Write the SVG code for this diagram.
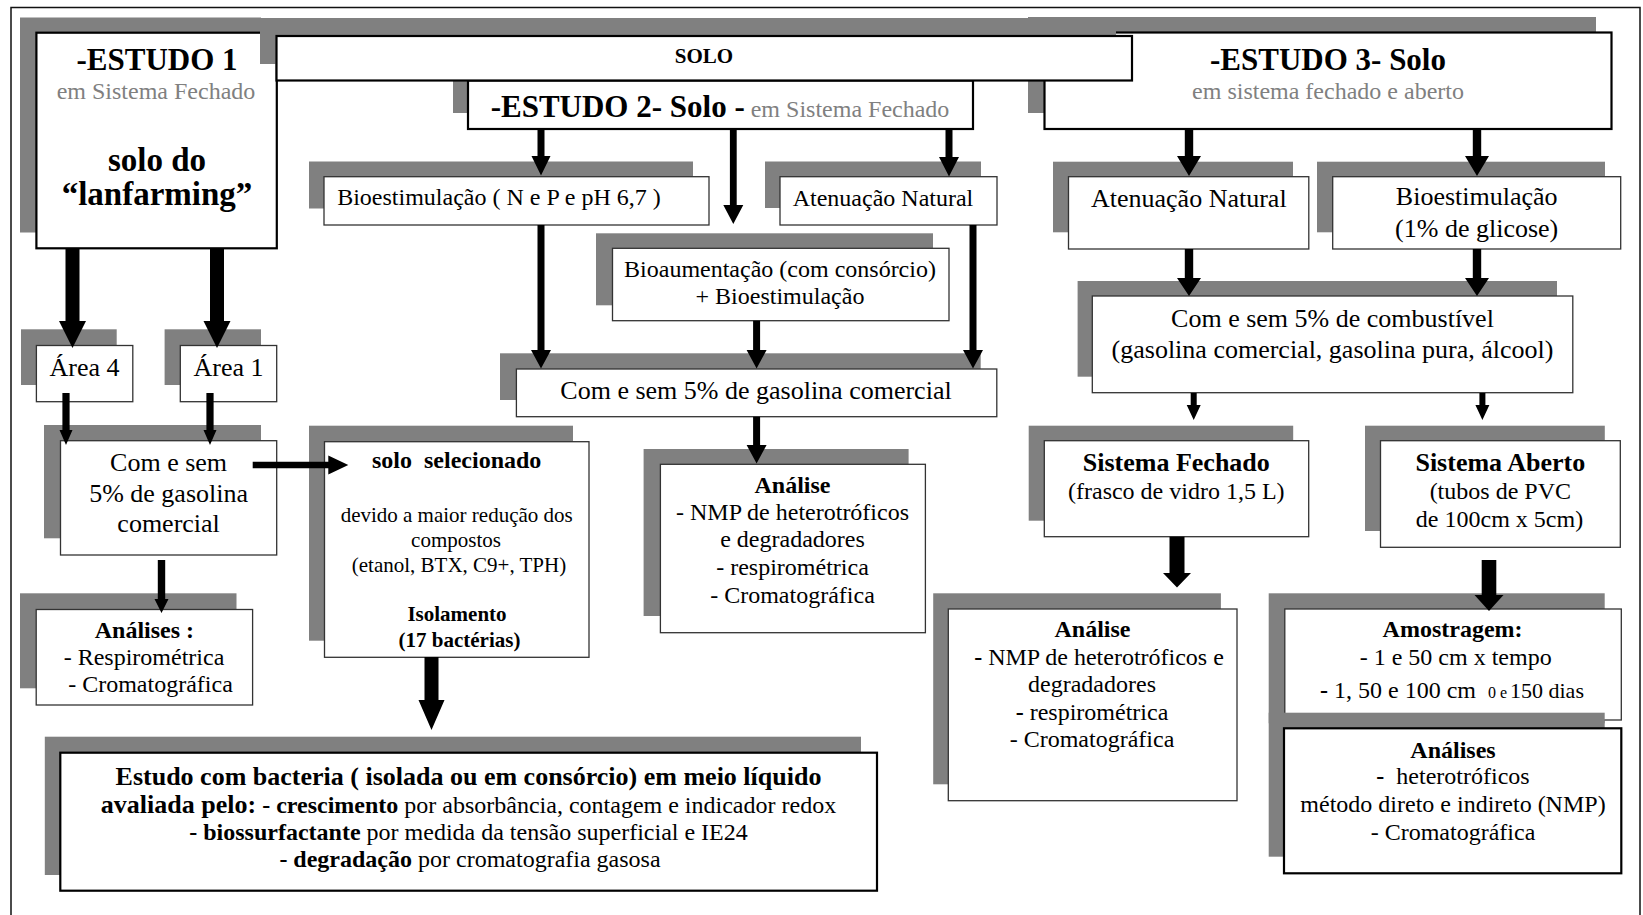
<svg xmlns="http://www.w3.org/2000/svg" width="1643" height="915" viewBox="0 0 1643 915">
<style>
.s{fill:#808080}
.b{fill:#fff;stroke:#333;stroke-width:1.3}
.k{fill:#fff;stroke:#000;stroke-width:2.2}
text{font-family:"Liberation Serif","Times New Roman",serif;fill:#000;text-anchor:middle}
.bd{font-weight:bold}
.gr{fill:#808080}
.f21{font-size:21px}.f24{font-size:24px}.f26{font-size:26px}.f31{font-size:31px}.f33{font-size:33px}
.ar{fill:#000}
</style>
<rect x="11" y="7.5" width="1629" height="960" fill="#fff" stroke="#111" stroke-width="1.5"/>

<g id="estudo1">
<rect class="s" x="20" y="17.5" width="241" height="215"/>
<rect class="k" x="36.4" y="32.7" width="240.4" height="215.6"/>
<text class="bd f31" x="157" y="70">-ESTUDO 1</text>
<text class="gr f24" x="156" y="99">em Sistema Fechado</text>
<text class="bd f33" x="157" y="171">solo do</text>
<text class="bd f33" x="157" y="205">“lanfarming”</text>
</g>

<g id="estudo3">
<rect class="s" x="1028" y="17" width="568" height="96"/>
<rect class="k" x="1044.5" y="32.5" width="567" height="96.5"/>
<text class="bd f31" x="1328" y="70">-ESTUDO 3- Solo</text>
<text class="gr f24" x="1328" y="98.5">em sistema fechado e aberto</text>
</g>

<g id="estudo2">
<rect class="s" x="453" y="64" width="505" height="49"/>
<rect class="k" x="468" y="80.5" width="505" height="48.5"/>
<text x="720" y="117"><tspan class="bd f31">-ESTUDO 2- Solo -</tspan><tspan class="gr f24"> em Sistema Fechado</tspan></text>
</g>

<g id="solo">
<rect class="s" x="260" y="18" width="856" height="46"/>
<rect class="k" x="276.5" y="36" width="855.5" height="44.5"/>
<text class="bd f21" x="704" y="63">SOLO</text>
</g>

<g id="area4">
<rect class="s" x="21" y="329.3" width="95.7" height="55.7"/>
<rect class="b" x="36.4" y="345.5" width="96.4" height="56.2"/>
<text class="f26" x="84.6" y="376">Área 4</text>
</g>

<g id="area1">
<rect class="s" x="164.6" y="329.3" width="96.4" height="55.7"/>
<rect class="b" x="180.3" y="345.5" width="96.4" height="56.2"/>
<text class="f26" x="228.5" y="376">Área 1</text>
</g>

<g id="gasolina1">
<rect class="s" x="44" y="425" width="217" height="113.3"/>
<rect class="b" x="60.5" y="440.7" width="216.2" height="114.3"/>
<text class="f26" x="168.6" y="470.7">Com e sem</text>
<text class="f26" x="168.6" y="501.7">5% de gasolina</text>
<text class="f26" x="168.6" y="531.7">comercial</text>
</g>

<g id="analises1">
<rect class="s" x="20" y="593.3" width="216.5" height="95"/>
<rect class="b" x="36.2" y="609.5" width="216.4" height="95.5"/>
<text class="bd f24" x="144.4" y="638.3">Análises :</text>
<text class="f24" x="144" y="665">- Respirométrica</text>
<text class="f24" x="150.5" y="691.7">- Cromatográfica</text>
</g>

<g id="soloSelecionado">
<rect class="s" x="309" y="425.7" width="264" height="215"/>
<rect class="b" x="324.5" y="441.7" width="264.5" height="215.6"/>
<text class="bd f24" x="456.7" y="468.3" xml:space="preserve">solo  selecionado</text>
<text class="f21" x="456.7" y="521.7">devido a maior redução dos</text>
<text class="f21" x="456" y="546.7">compostos</text>
<text class="f21" x="459" y="571.7">(etanol, BTX, C9+, TPH)</text>
<text class="bd f21" x="457" y="620.5">Isolamento</text>
<text class="bd f21" x="459.5" y="646.5">(17 bactérias)</text>
</g>

<g id="estudoBacteria">
<rect class="s" x="44.8" y="736.7" width="816.2" height="138.3"/>
<rect class="k" x="60.3" y="752.7" width="816.7" height="138"/>
<text class="bd f26" x="468.5" y="785">Estudo com bacteria ( isolada ou em consórcio) em meio líquido</text>
<text x="468.5" y="813.3"><tspan class="bd f26">avaliada pelo:</tspan><tspan class="bd f24"> - crescimento</tspan><tspan class="f24"> por absorbância, contagem e indicador redox</tspan></text>
<text x="468.5" y="840"><tspan class="bd f24">- biossurfactante</tspan><tspan class="f24"> por medida da tensão superficial e IE24</tspan></text>
<text x="470" y="866.7"><tspan class="bd f24">- degradação</tspan><tspan class="f24"> por cromatografia gasosa</tspan></text>
</g>

<g id="bioNP">
<rect class="s" x="309" y="161.5" width="384" height="47"/>
<rect class="b" x="324" y="176.7" width="385" height="48.3"/>
<text class="f24" x="499" y="205">Bioestimulação ( N e P e pH 6,7 )</text>
</g>

<g id="atenuacao2">
<rect class="s" x="765" y="161.5" width="216" height="46.5"/>
<rect class="b" x="780" y="176.7" width="217" height="48.3"/>
<text class="f24" x="883" y="205.5">Atenuação Natural</text>
</g>

<g id="bioaumentacao">
<rect class="s" x="596" y="233.3" width="337" height="72"/>
<rect class="b" x="612.5" y="248.3" width="336.5" height="72.4"/>
<text class="f24" x="780" y="276.7">Bioaumentação (com consórcio)</text>
<text class="f24" x="780" y="304">+ Bioestimulação</text>
</g>

<g id="gasolina2">
<rect class="s" x="500" y="353.3" width="480.7" height="46.7"/>
<rect class="b" x="516.4" y="369" width="480.4" height="47.7"/>
<text class="f26" x="756" y="399.3">Com e sem 5% de gasolina comercial</text>
</g>

<g id="analise2">
<rect class="s" x="643.6" y="449" width="265" height="167"/>
<rect class="b" x="660.4" y="464.3" width="265" height="168.4"/>
<text class="bd f24" x="792.5" y="492.7">Análise</text>
<text class="f24" x="792.5" y="520">- NMP de heterotróficos</text>
<text class="f24" x="792.5" y="546.7">e degradadores</text>
<text class="f24" x="792.5" y="575">- respirométrica</text>
<text class="f24" x="792.5" y="603.3">- Cromatográfica</text>
</g>

<g id="atenuacao3">
<rect class="s" x="1053" y="161.7" width="240" height="70.6"/>
<rect class="b" x="1068.5" y="176.7" width="240.3" height="72.3"/>
<text class="f26" x="1188.8" y="206.7">Atenuação Natural</text>
</g>

<g id="bioGlicose">
<rect class="s" x="1317" y="161.7" width="288" height="70.6"/>
<rect class="b" x="1332.7" y="176.7" width="288" height="72.3"/>
<text class="f26" x="1476.7" y="205">Bioestimulação</text>
<text class="f26" x="1476.7" y="237.3">(1% de glicose)</text>
</g>

<g id="combustivel">
<rect class="s" x="1077.6" y="281" width="479.4" height="95.7"/>
<rect class="b" x="1092.3" y="296" width="480.5" height="96.7"/>
<text class="f26" x="1332.5" y="326.7">Com e sem 5% de combustível</text>
<text class="f26" x="1332.5" y="358.3">(gasolina comercial, gasolina pura, álcool)</text>
</g>

<g id="sistemaFechado">
<rect class="s" x="1028.7" y="425.7" width="264.5" height="95"/>
<rect class="b" x="1044.3" y="440.7" width="264.4" height="96"/>
<text class="bd f26" x="1176.3" y="470.7">Sistema Fechado</text>
<text class="f24" x="1176.3" y="499">(frasco de vidro 1,5 L)</text>
</g>

<g id="sistemaAberto">
<rect class="s" x="1365" y="425.7" width="239.8" height="105.3"/>
<rect class="b" x="1380.5" y="440.7" width="239.8" height="106.6"/>
<text class="bd f26" x="1500.3" y="470.7">Sistema Aberto</text>
<text class="f24" x="1500.3" y="499">(tubos de PVC</text>
<text class="f24" x="1499.5" y="527.3">de 100cm x 5cm)</text>
</g>

<g id="analise3">
<rect class="s" x="933.2" y="593.3" width="287.7" height="191"/>
<rect class="b" x="948.3" y="609" width="288.7" height="191.7"/>
<text class="bd f24" x="1092.5" y="637.3">Análise</text>
<text class="f24" x="1099" y="665"><tspan class="bd">-</tspan> NMP de heterotróficos e</text>
<text class="f24" x="1092" y="691.7">degradadores</text>
<text class="f24" x="1092" y="720"><tspan class="bd">-</tspan> respirométrica</text>
<text class="f24" x="1092" y="746.7">- Cromatográfica</text>
</g>

<g id="amostragem">
<rect class="s" x="1268.7" y="593.3" width="336" height="130"/>
<rect class="b" x="1284.8" y="609" width="336.5" height="111"/>
<text class="bd f24" x="1452.6" y="637.3">Amostragem:</text>
<text class="f24" x="1455.7" y="665">- 1 e 50 cm x tempo</text>
<text style="text-anchor:start" x="1320" y="698.3"><tspan class="f24"><tspan class="bd">-</tspan> 1, 50 e 100 cm</tspan><tspan x="1488" style="font-size:16px">0 e</tspan><tspan x="1510" style="font-size:22px">150 dias</tspan></text>
</g>

<g id="analises3">
<rect class="s" x="1268.7" y="712.7" width="336" height="144"/>
<rect class="k" x="1284" y="728.3" width="337.3" height="145"/>
<text class="bd f24" x="1453" y="758.3">Análises</text>
<text class="f24" x="1453" y="784" xml:space="preserve"><tspan class="bd">-</tspan>  heterotróficos</text>
<text class="f24" x="1453" y="812.3">método direto e indireto (NMP)</text>
<text class="f24" x="1453" y="840">- Cromatográfica</text>
</g>

<g id="connectors" class="ar">
<path d="M65.5,248 H79.5 V321 H86 L72.5,348 L59,321 H65.5 Z"/>
<path d="M210,248 H224 V321 H230.5 L217,348 L203.5,321 H210 Z"/>
<path d="M62.4,393 H69.6 V430 H72.5 L66,445 L59.5,430 H62.4 Z"/>
<path d="M206.4,393 H213.6 V430 H216.5 L210,445 L203.5,430 H206.4 Z"/>
<path d="M157.8,560 H165.2 V599 H168.5 L161.5,613 L154.5,599 H157.8 Z"/>
<path d="M252.7,461.7 V468.3 H328.3 V474.5 L348.3,465 L328.3,455.5 V461.7 Z"/>
<path d="M424.5,657 H438.5 V700 H444.5 L431.5,730 L418.5,700 H424.5 Z"/>
<path d="M537.5,129 H544.5 V156 H550.5 L541,175.5 L531.5,156 H537.5 Z"/>
<path d="M729.9,129 H736.7 V205 H743.3 L733.3,224 L723.3,205 H729.9 Z"/>
<path d="M945.5,129 H952.5 V157 H959 L949,176.5 L939,157 H945.5 Z"/>
<path d="M537.5,225 H544.5 V350 H551 L541,368.5 L531,350 H537.5 Z"/>
<path d="M753.1,320.7 H760.1 V350 H766.6 L756.6,368.5 L746.6,350 H753.1 Z"/>
<path d="M969.5,225 H976.5 V350 H983 L973,368.5 L963,350 H969.5 Z"/>
<path d="M753.1,416.7 H760.1 V445 H766.6 L756.6,463.5 L746.6,445 H753.1 Z"/>
<path d="M1184.8,129 H1193.2 V156 H1201 L1189,176 L1177,156 H1184.8 Z"/>
<path d="M1472.8,129 H1481.2 V156 H1489 L1477,176 L1465,156 H1472.8 Z"/>
<path d="M1184.8,249 H1193.2 V278 H1201 L1189,296 L1177,278 H1184.8 Z"/>
<path d="M1472.8,249 H1481.2 V278 H1489 L1477,296 L1465,278 H1472.8 Z"/>
<path d="M1190.7,393 H1196.7 V405 H1200.7 L1193.7,420 L1186.7,405 H1190.7 Z"/>
<path d="M1479.4,393 H1485.4 V405 H1489.4 L1482.4,420 L1475.4,405 H1479.4 Z"/>
<path d="M1169.5,536.7 H1184.5 V573 H1191 L1177,587.5 L1163,573 H1169.5 Z"/>
<path d="M1481.7,560 H1496.3 V595 H1503.5 L1489,611 L1474.5,595 H1481.7 Z"/>
</g>
</svg>
